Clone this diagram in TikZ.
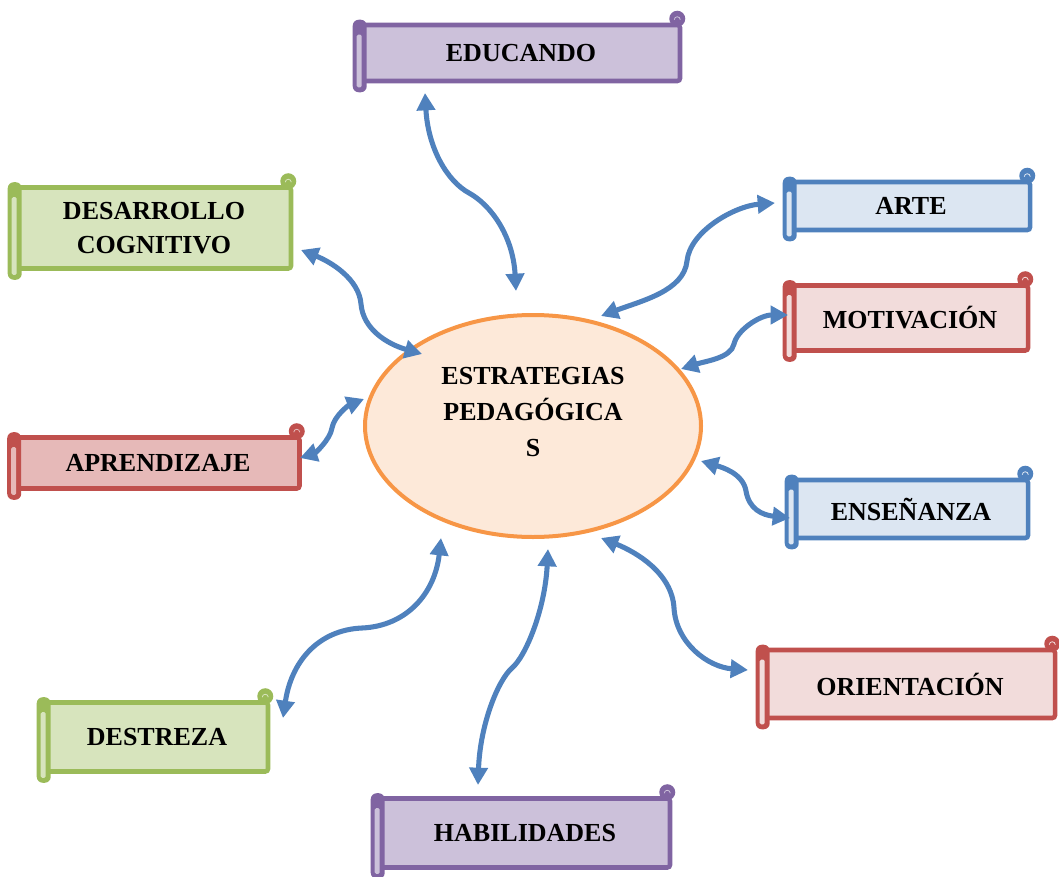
\documentclass[tikz,border=0pt]{standalone}
\usepackage{fontspec}
\setmainfont{Liberation Serif}
\usepackage{tikz}
\usetikzlibrary{arrows.meta}
\usetikzlibrary{shapes.geometric}
\definecolor{lila}{HTML}{8064A2}
\definecolor{lilaF}{HTML}{CCC1DA}
\definecolor{verde}{HTML}{9BBB59}
\definecolor{verdeF}{HTML}{D7E4BD}
\definecolor{azul}{HTML}{4F81BD}
\definecolor{azulF}{HTML}{DCE6F2}
\definecolor{rojo}{HTML}{C0504D}
\definecolor{rojoF}{HTML}{F2DCDB}
\definecolor{rojoG}{HTML}{E6B9B8}
\definecolor{naranja}{HTML}{F79646}
\definecolor{naranjaF}{HTML}{FDE9D9}
\tikzset{
	rollo/.style 2 args={draw=#1, fill=#2, line width=3.4pt, rounded corners=2pt, inner sep=0pt, align=center, font=\bfseries\fontsize{19.5}{25}\selectfont},
	centro/.style={ellipse, draw=naranja, fill=naranjaF, line width=3pt, minimum width=252pt, minimum height=166.5pt},
	enlace/.style={draw=azul, line width=3.8pt, {Triangle[length=13pt,width=13.5pt]}-{Triangle[length=13pt,width=13.5pt]}}
}
\newcommand{\rollopartes}[3]{%
	\fill[#2, rounded corners=4.5pt] ([shift={(-7,-3)}]#1.north west) rectangle ([shift={(7,9)}]#1.south west);
	\fill[#3, rounded corners=1pt] ([shift={(-3,12)}]#1.north west) rectangle ([shift={(2,4)}]#1.south west);
	\fill[#2] ([shift={(-5,-4)}]#1.north east) circle (6pt);
	\draw[#3, line width=0.6pt] ([shift={(-8,-3)}]#1.north east) arc (180:0:2.25pt);
}
\begin{document}
\begin{tikzpicture}[x=0.75pt,y=-0.75pt]
		\useasboundingbox (0,0) rectangle (1059,877);
		\node[centro] (est) at (533,426) {};
		\node[align=center, font=\bfseries\fontsize{19.5}{27}\selectfont] (esttxt) at (533,412) {ESTRATEGIAS\\PEDAGÓGICA\\S};
		\node[rollo={lila}{lilaF}, minimum width=238.5pt, minimum height=42pt] (educ) at (521,53) {EDUCANDO};
		\node[rollo={verde}{verdeF}, minimum width=205.5pt, minimum height=60.75pt] (desa) at (154,228) {DESARROLLO\\COGNITIVO};
		\node[rollo={azul}{azulF}, minimum width=178.5pt, minimum height=36pt] (arte) at (911,206) {ARTE};
		\node[rollo={rojo}{rojoF}, minimum width=177pt, minimum height=48.75pt] (moti) at (910,318) {MOTIVACIÓN};
		\node[rollo={rojo}{rojoG}, minimum width=212.25pt, minimum height=38.25pt] (apre) at (158,463) {APRENDIZAJE};
		\node[rollo={azul}{azulF}, minimum width=175.5pt, minimum height=43.5pt] (ense) at (911,509) {ENSEÑANZA};
		\node[rollo={rojo}{rojoF}, minimum width=217.5pt, minimum height=51pt] (orie) at (910,684) {ORIENTACIÓN};
		\node[rollo={verde}{verdeF}, minimum width=166.5pt, minimum height=51.75pt] (dest) at (157,737) {DESTREZA};
		\node[rollo={lila}{lilaF}, minimum width=217.5pt, minimum height=51.75pt] (habi) at (525,833) {HABILIDADES};
		\rollopartes{educ}{lila}{lilaF}
		\rollopartes{desa}{verde}{verdeF}
		\rollopartes{arte}{azul}{azulF}
		\rollopartes{moti}{rojo}{rojoF}
		\rollopartes{apre}{rojo}{rojoG}
		\rollopartes{ense}{azul}{azulF}
		\rollopartes{orie}{rojo}{rojoF}
		\rollopartes{dest}{verde}{verdeF}
		\rollopartes{habi}{lila}{lilaF}
		\draw[enlace] ([shift={(-96,40)}]educ.center) .. controls +(3,55) and +(-22,-12) .. ([shift={(-64,-233)}]est.center) .. controls +(22,12) and +(-3,-55) .. ([shift={(-17,-135)}]est.center);
		\draw[enlace] ([shift={(147,22)}]desa.center) .. controls +(30,12) and +(-2,-25) .. ([shift={(-172,-122)}]est.center) .. controls +(2,25) and +(-35,-10) .. ([shift={(-111,-72)}]est.center);
		\draw[enlace] ([shift={(-136,-3)}]arte.center) .. controls +(-40,3) and +(3,-30) .. ([shift={(154,-165)}]est.center) .. controls +(-3,30) and +(40,-15) .. ([shift={(68,-110)}]est.center);
		\draw[enlace] ([shift={(-122,-3)}]moti.center) .. controls +(-28,0) and +(3,-14) .. ([shift={(201,-82)}]est.center) .. controls +(-3,14) and +(25,-8) .. ([shift={(148,-57)}]est.center);
		\draw[enlace] ([shift={(142,-5)}]apre.center) .. controls +(15,-5) and +(-2,12) .. ([shift={(-201,2)}]est.center) .. controls +(2,-12) and +(-15,6) .. ([shift={(-169,-27)}]est.center);
		\draw[enlace] ([shift={(-121,9)}]ense.center) .. controls +(-28,-3) and +(3,18) .. ([shift={(213,65)}]est.center) .. controls +(-3,-18) and +(20,6) .. ([shift={(168,35)}]est.center);
		\draw[enlace] ([shift={(-162,-14)}]orie.center) .. controls +(-40,-3) and +(2,35) .. ([shift={(141,182)}]est.center) .. controls +(-2,-35) and +(35,14) .. ([shift={(68,112)}]est.center);
		\draw[enlace] ([shift={(126,-19)}]dest.center) .. controls +(8,-55) and +(-45,2) .. ([shift={(-171,202)}]est.center) .. controls +(45,-2) and +(-6,55) .. ([shift={(-92,112)}]est.center);
		\draw[enlace] ([shift={(-47,-48)}]habi.center) .. controls +(2,-60) and +(-14,12) .. ([shift={(-21,242)}]est.center) .. controls +(14,-12) and +(-3,60) .. ([shift={(15,123)}]est.center);
\end{tikzpicture}
\end{document}
